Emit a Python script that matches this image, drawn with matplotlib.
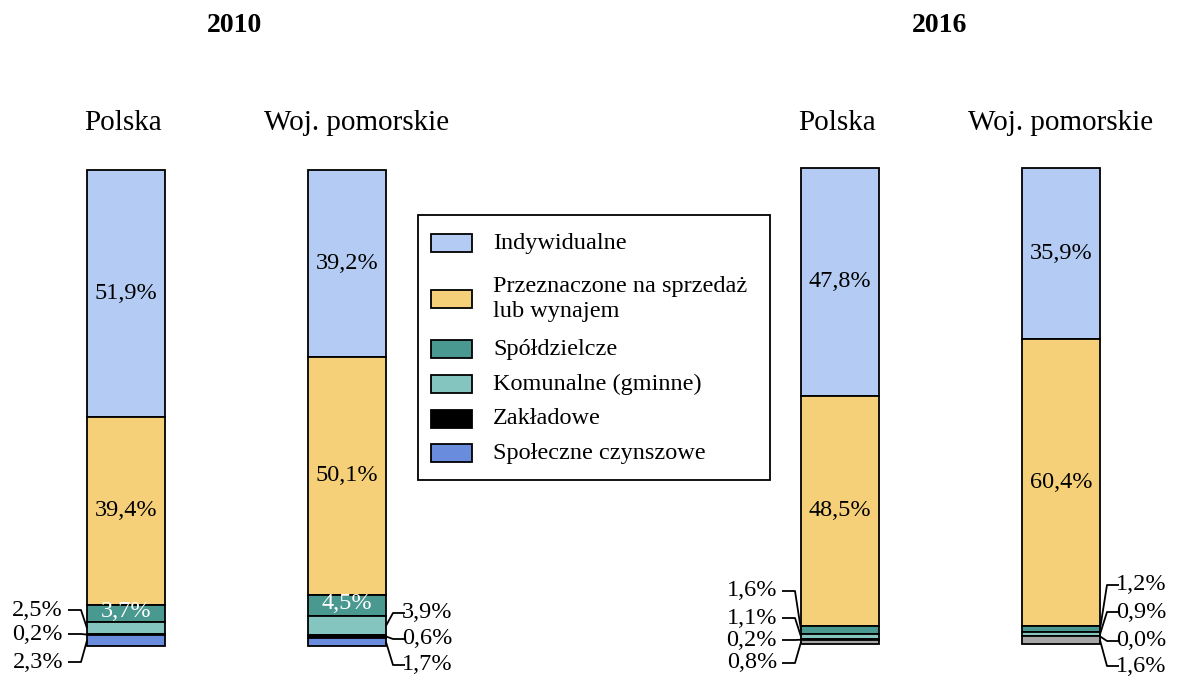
import matplotlib
matplotlib.use("Agg")
import matplotlib.pyplot as plt
from matplotlib.patches import Rectangle

plt.rcParams['font.family'] = ['Liberation Serif', 'DejaVu Serif']

# ---- data ----
categories = ["Indywidualne", "Przeznaczone na sprzedaż\nlub wynajem", "Spółdzielcze",
              "Komunalne (gminne)", "Zakładowe", "Społeczne czynszowe"]
years = ["2010", "2016"]
regions = ["Polska", "Woj. pomorskie"]
polska_2010 = [51.9, 39.4, 3.7, 2.5, 0.2, 2.3]
pomorskie_2010 = [39.2, 50.1, 4.5, 3.9, 0.6, 1.7]
polska_2016 = [47.8, 48.5, 1.6, 1.1, 0.2, 0.8]
pomorskie_2016 = [35.9, 60.4, 1.2, 0.9, 0.0, 1.6]
labels_polska_2010 = ["51,9%", "39,4%", "3,7%", "2,5%", "0,2%", "2,3%"]
labels_pomorskie_2010 = ["39,2%", "50,1%", "4,5%", "3,9%", "0,6%", "1,7%"]
labels_polska_2016 = ["47,8%", "48,5%", "1,6%", "1,1%", "0,2%", "0,8%"]
labels_pomorskie_2016 = ["35,9%", "60,4%", "1,2%", "0,9%", "0,0%", "1,6%"]

colors_2010 = ["#B4CCF3", "#F5D078", "#4A9990", "#84C6BF", "#000000", "#6A8CDC"]
colors_2016 = ["#B4CCF3", "#F5D078", "#4A9990", "#84C6BF", "#000000", "#A6A6A6"]

W, H = 1181, 677
fig = plt.figure(figsize=(W / 100, H / 100), dpi=100)
ax = fig.add_axes([0, 0, 1, 1])
PX = 4.76  # pixels per percent
BASE = 646
ax.set_xlim(0, W)
ax.set_ylim((BASE - H) / PX, BASE / PX)
ax.axis('off')


def py(p):
    """pixel-from-top -> data y"""
    return (BASE - p) / PX


bars = [
    (126, polska_2010, labels_polska_2010, colors_2010, 0.0),
    (347, pomorskie_2010, labels_pomorskie_2010, colors_2010, 0.0),
    (840, polska_2016, labels_polska_2016, colors_2016, 2 / PX),
    (1061, pomorskie_2016, labels_pomorskie_2016, colors_2016, 2 / PX),
]
BW = 78
FS = 17.5
LW = 1.3

centers = []
for xc, vals, labs, cols, base in bars:
    bottom = base + 100.0
    segs = []
    for v, c in zip(vals, cols):
        bottom -= v
        ax.bar(xc, v, bottom=bottom, width=BW, color=c, edgecolor='black', linewidth=LW)
        segs.append((bottom, bottom + v))
    centers.append([(a + b) / 2 for a, b in segs])
    for i in range(2):
        a, b = segs[i]
        ax.text(xc, (a + b) / 2, labs[i], ha='center', va='center', fontsize=FS)

# white labels inside Spółdzielcze (2010)
for k in (0, 1):
    xc, vals, labs, cols, base = bars[k]
    ax.text(xc, centers[k][2] + 0.4, labs[2], ha='center', va='center', fontsize=FS, color='white')

# leader-line labels: (bar index, segment index, label pixel y, side)
leaders = [
    (0, 3, 610, 'L'), (0, 4, 634, 'L'), (0, 5, 662, 'L'),
    (1, 3, 613, 'R'), (1, 4, 639, 'R'), (1, 5, 665, 'R'),
    (2, 2, 591, 'L'), (2, 3, 618, 'L'), (2, 4, 640, 'L'), (2, 5, 663, 'L'),
    (3, 2, 585, 'R'), (3, 3, 612, 'R'), (3, 4, 641, 'R'), (3, 5, 666, 'R'),
]
for bi, si, ly, side in leaders:
    xc, vals, labs, cols, base = bars[bi]
    yseg = centers[bi][si]
    if side == 'L':
        edge = xc - BW / 2
        xs = [edge - 19, edge - 6, edge]
        tx, ha = edge - 24, 'right'
    else:
        edge = xc + BW / 2
        xs = [edge + 19, edge + 7, edge]
        tx, ha = edge + 16, 'left'
    ys = [py(ly), py(ly), yseg]
    ax.plot(xs, ys, color='black', lw=LW, solid_capstyle='butt')
    ax.text(tx, py(ly), labs[si], ha=ha, va='center', fontsize=FS)

# region labels
for xc, name in zip([123, 357, 837, 1061], regions * 2):
    ax.text(xc, py(123), name, ha='center', va='center', fontsize=21)

# year titles
for xc, yr in zip([234, 940], years):
    ax.text(xc, py(25), yr, ha='center', va='center', fontsize=20, fontweight='bold')

# legend (drawn as a framed box with swatches)
ax.add_patch(Rectangle((418, py(480)), 352, py(215) - py(480), facecolor='white',
                       edgecolor='black', linewidth=LW, zorder=5))
row_y = [243, 299, 349, 384, 419, 453]
for c, lab, ry in zip(colors_2010, categories, row_y):
    ax.add_patch(Rectangle((431, py(ry + 9)), 41, 18 / PX, facecolor=c,
                           edgecolor='black', linewidth=LW, zorder=6))
    ax.text(493, py(ry), lab, ha='left', va='center', fontsize=FS,
            linespacing=1.3, zorder=7)

fig.savefig("out.png", dpi=100)
